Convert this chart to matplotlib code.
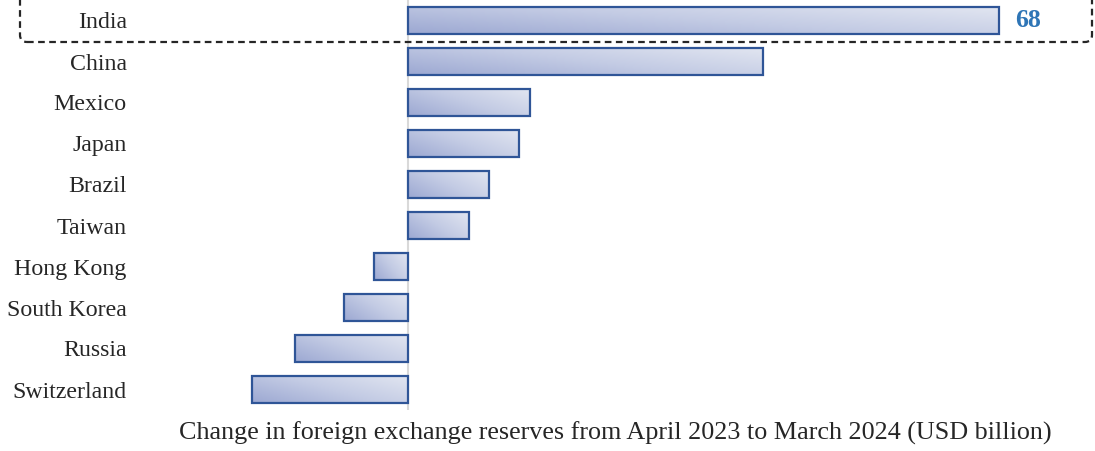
import numpy as np
import matplotlib
matplotlib.use("Agg")
import matplotlib.pyplot as plt
from matplotlib.colors import LinearSegmentedColormap
from matplotlib.patches import FancyBboxPatch
from matplotlib.transforms import IdentityTransform

countries = ["India", "China", "Mexico", "Japan", "Brazil", "Taiwan",
             "Hong Kong", "South Korea", "Russia", "Switzerland"]
changes = [68, 40.8, 14.0, 12.8, 9.3, 7.0, -3.9, -7.4, -13.0, -18.0]
highlight_label = "68"
xlabel = "Change in foreign exchange reserves from April 2023 to March 2024 (USD billion)"

W, H = 1095, 451
fig = plt.figure(figsize=(W / 100, H / 100), dpi=100)
ax = fig.add_axes([140 / W, 1 - 410 / H, (1090 - 140) / W, 410 / H])
px_per = (999 - 408) / 68.0
xlim = ((140 - 408) / px_per, (1090 - 408) / px_per)

cmap = LinearSegmentedColormap.from_list("g", ["#9ca8d2", "#c3cbe4", "#e2e6f1"])
yy, xx = np.mgrid[0:1:50j, 0:1:200j]
grad = xx * 0.6 + yy * 0.4

ypos = np.arange(len(countries))
h = 0.66
bars = ax.barh(ypos, changes, height=h, facecolor="none", edgecolor="#2f5597",
               linewidth=1.6, zorder=3)
for b, v, y in zip(bars, changes, ypos):
    x0, x1 = min(0, v), max(0, v)
    im = ax.imshow(grad, cmap=cmap, aspect="auto",
                   extent=(x0, x1, y + h / 2, y - h / 2), origin="lower",
                   zorder=2, interpolation="bilinear")
    im.set_clip_path(b)

ax.set_xlim(*xlim)
ax.set_ylim(len(countries) - 0.5, -0.5)

ax.axvline(0, color="#d9d9d9", lw=1.5, zorder=1)
for s in ax.spines.values():
    s.set_visible(False)
ax.set_xticks([])
ax.set_yticks(ypos)
ax.set_yticklabels(countries, fontfamily="Liberation Serif", fontsize=17.2, color="#262626")
ax.tick_params(axis="y", length=0, pad=9.5)

ax.text(changes[0] + 1.8, 0, highlight_label, va="center", ha="left",
        fontfamily="Liberation Serif", fontsize=18.5, fontweight="bold", color="#2e75b6")

fig.text(615 / W, 1 - 433 / H, xlabel, ha="center", va="center",
         fontfamily="Liberation Serif", fontsize=18.8, color="#262626")

box = FancyBboxPatch((20, H - 42), 1072, 60,
                     boxstyle="round,pad=0,rounding_size=7",
                     transform=IdentityTransform(), fill=False, edgecolor="#262626",
                     linestyle=(0, (3.0, 2.0)), linewidth=1.6, zorder=10)
fig.patches.append(box)

fig.savefig("out.png", dpi=100)
